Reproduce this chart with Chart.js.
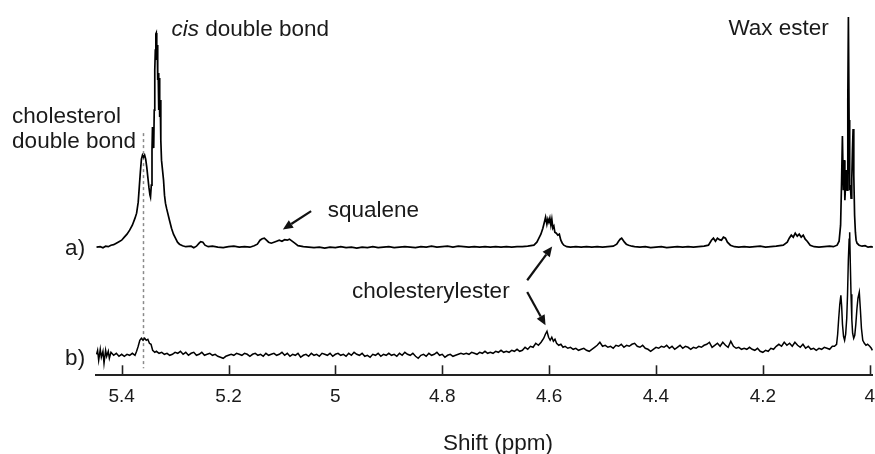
<!DOCTYPE html>
<html><head><meta charset="utf-8">
<script src="https://cdn.jsdelivr.net/npm/chart.js@4/dist/chart.umd.min.js"></script>
<style>html,body{margin:0;padding:0;background:#fff}</style>
</head><body>
<canvas id="c" width="875" height="454"></canvas>
<script>
// Spectrum a): [chemical shift (ppm), intensity above its own baseline]
const traceA = [
[5.447,0],[5.44,0.5],[5.435,-0.5],[5.43,1],[5.425,0.5],[5.42,2],[5.415,2.5],[5.41,4],[5.405,5.5],[5.4,7],
[5.395,10],[5.39,13],[5.385,17],[5.38,22],[5.375,29],[5.372,34],[5.369,45],[5.367,60],[5.365,75],[5.363,88],
[5.361,92],[5.359,90],[5.357,92],[5.355,88],[5.353,80],[5.351,70],[5.349,60],[5.347,52],[5.346,50],[5.3445,62],
[5.3432,97],[5.3423,120],[5.3412,107],[5.34,99],[5.339,137],[5.338,177],[5.337,197],[5.336,213],[5.3352,214],[5.3343,187],
[5.3334,202],[5.3325,167],[5.3316,174],[5.3306,137],[5.3297,169],[5.3288,130],[5.3278,147],[5.3267,107],[5.3254,87],[5.3235,77],
[5.3216,67],[5.3198,52],[5.318,44],[5.316,39],[5.3142,35],[5.3105,27],[5.3067,19],[5.303,13],[5.2993,9],[5.2955,5],
[5.2918,3],[5.286,1.5],[5.28,0.5],[5.27,1],[5.265,-0.5],[5.26,1],[5.255,4],[5.252,5.5],[5.248,5],[5.244,2],
[5.238,0.5],[5.23,1],[5.22,0],[5.21,-0.5],[5.2,0.5],[5.19,1],[5.18,0],[5.17,0.5],[5.16,0],[5.152,1.5],
[5.146,3],[5.141,7],[5.137,8.5],[5.133,9],[5.129,7],[5.125,5],[5.12,4],[5.115,5],[5.11,6],[5.105,7],
[5.1,6],[5.095,7.5],[5.09,7],[5.086,8],[5.081,6],[5.076,4],[5.07,1.5],[5.06,0.5],[5.05,0],[5.04,-0.5],
[5.03,0],[5.02,-1],[5.01,0],[5.0,-0.5],[4.99,0.5],[4.98,-0.5],[4.97,0],[4.96,-1],[4.95,0],[4.94,-0.5],
[4.93,0.5],[4.92,-0.5],[4.91,0],[4.9,0.5],[4.89,-0.5],[4.88,0],[4.87,0.5],[4.86,0],[4.85,-0.5],[4.84,0.5],
[4.83,0],[4.82,1],[4.81,0],[4.8,0.5],[4.79,1],[4.78,0],[4.77,1],[4.76,0.5],[4.75,0],[4.74,0.5],
[4.73,0],[4.72,0.5],[4.71,0],[4.7,0.5],[4.69,0],[4.68,0.5],[4.67,0],[4.66,0.5],[4.65,0.5],[4.64,1],
[4.6285,2],[4.6229,5],[4.6191,9],[4.6154,13],[4.6117,19],[4.6089,25],[4.6066,30],[4.6042,23],[4.6023,28],[4.6005,25],
[4.5986,29],[4.5967,22],[4.5949,28],[4.593,19],[4.5911,21],[4.5893,15],[4.5865,14],[4.5837,12],[4.5809,13],[4.5781,7],
[4.5753,4],[4.5725,2],[4.5669,0.5],[4.56,0],[4.55,0.5],[4.54,0],[4.53,0.5],[4.52,0],[4.51,0.5],[4.5,0],
[4.49,0.5],[4.48,1],[4.4735,3],[4.47,6],[4.467,8],[4.4642,9],[4.4615,7],[4.459,5],[4.4555,3],[4.4512,2],
[4.445,1],[4.44,0.5],[4.43,0],[4.42,0.5],[4.41,-0.5],[4.4,0],[4.39,0.5],[4.38,-0.5],[4.37,0],[4.36,0.5],
[4.35,0],[4.34,0.5],[4.33,0],[4.32,0.5],[4.31,1],[4.3018,2],[4.2962,7],[4.2925,9],[4.2887,6],[4.285,9],
[4.2813,7.5],[4.2775,7],[4.2738,10],[4.27,9],[4.2663,5],[4.2607,2],[4.2532,0.5],[4.245,0],[4.235,0.5],[4.225,0],
[4.215,0.5],[4.205,1],[4.195,0],[4.185,0.5],[4.175,1],[4.1618,2],[4.1543,5],[4.1506,9],[4.1468,12],[4.1431,10],
[4.1394,14],[4.1356,11],[4.1319,13],[4.1282,10],[4.1244,12],[4.1207,8],[4.117,6],[4.1114,2],[4.1039,0.5],[4.095,0],
[4.085,0.5],[4.075,1],[4.068,0.5],[4.061,2],[4.0573,6],[4.0545,22],[4.0526,67],[4.0511,111],[4.0494,57],[4.048,87],
[4.0465,47],[4.0452,62],[4.0437,77],[4.0423,57],[4.041,147],[4.0399,230],[4.0386,127],[4.0375,57],[4.0362,62],[4.0349,49],
[4.0336,67],[4.0323,97],[4.0311,118],[4.0298,72],[4.0283,32],[4.0268,15],[4.0255,7],[4.0237,4],[4.0199,2],[4.0143,1],
[4.0087,1.5],[4.0031,0],[3.9975,0.5],[3.994,0]
];
// Spectrum b): [chemical shift (ppm), intensity above its own baseline]
const traceB = [
[5.447,0],[5.445,4],[5.443,-6],[5.44,5],[5.438,-3],[5.435,3],[5.433,-9],[5.43,4],[5.428,-2],[5.425,3],
[5.423,-4],[5.42,2],[5.415,-1],[5.41,1],[5.405,-2],[5.4,0],[5.395,-2],[5.39,0],[5.385,-1],[5.38,1],
[5.375,-1],[5.372,3],[5.369,8],[5.366,14],[5.363,16],[5.36,14],[5.357,16],[5.354,14],[5.351,15],[5.348,11],
[5.345,10],[5.342,4],[5.338,2],[5.335,3],[5.33,1],[5.325,2],[5.32,0],[5.315,1],[5.31,-1],[5.305,0],
[5.3,2],[5.295,1],[5.29,3],[5.285,0],[5.28,2],[5.275,-1],[5.27,1],[5.265,2],[5.26,-1],[5.255,0],
[5.25,2],[5.245,-1],[5.24,0],[5.235,1],[5.23,-1],[5.225,0],[5.22,-2],[5.215,-3],[5.21,-4],[5.205,-2],
[5.2,-1],[5.195,0],[5.19,-1],[5.185,1],[5.18,0],[5.175,-1],[5.17,1],[5.165,0],[5.16,-2],[5.155,0],
[5.15,1],[5.145,-1],[5.14,0],[5.135,-2],[5.13,1],[5.125,-1],[5.12,0],[5.115,1],[5.11,-1],[5.105,0],
[5.1,2],[5.095,-1],[5.09,1],[5.085,-2],[5.08,0],[5.075,-1],[5.07,1],[5.065,-3],[5.06,-1],[5.055,0],
[5.05,-2],[5.045,1],[5.04,-1],[5.035,0],[5.03,-2],[5.025,1],[5.02,0],[5.015,-1],[5.01,1],[5.005,-2],
[5.0,0],[4.995,1],[4.99,-1],[4.985,0],[4.98,-2],[4.975,1],[4.97,-1],[4.965,2],[4.96,0],[4.955,-1],
[4.95,1],[4.945,-2],[4.94,-1],[4.935,-3],[4.93,0],[4.925,-1],[4.92,1],[4.915,-2],[4.91,0],[4.905,-1],
[4.9,1],[4.895,-1],[4.89,0],[4.885,-2],[4.88,1],[4.875,-1],[4.87,2],[4.865,0],[4.86,-1],[4.855,1],
[4.85,-2],[4.845,-4],[4.84,-1],[4.835,0],[4.83,-2],[4.825,1],[4.82,-1],[4.815,0],[4.81,2],[4.805,-1],
[4.8,0],[4.795,-3],[4.79,-1],[4.785,0],[4.78,-2],[4.775,-1],[4.77,0],[4.765,1],[4.76,0],[4.755,1],
[4.75,0],[4.745,2],[4.74,1],[4.735,0],[4.73,2],[4.725,1],[4.72,3],[4.715,1],[4.71,2],[4.705,1],
[4.7,3],[4.695,2],[4.69,4],[4.685,2],[4.68,3],[4.675,2],[4.67,4],[4.665,3],[4.66,5],[4.655,3],
[4.65,4],[4.645,7],[4.64,5],[4.635,8],[4.63,7],[4.625,11],[4.62,9],[4.615,12],[4.61,16],[4.607,20],
[4.604,23],[4.601,17],[4.598,14],[4.595,17],[4.592,13],[4.589,15],[4.586,11],[4.582,9],[4.578,10],[4.574,7],
[4.57,8],[4.565,6],[4.56,7],[4.555,5],[4.55,6],[4.545,4],[4.54,5],[4.535,6],[4.53,4],[4.525,3],
[4.52,5],[4.515,7],[4.51,9],[4.505,12],[4.5,8],[4.495,9],[4.49,7],[4.485,8],[4.48,6],[4.475,9],
[4.47,8],[4.465,10],[4.46,7],[4.455,9],[4.45,8],[4.445,10],[4.44,11],[4.435,8],[4.43,7],[4.425,9],
[4.42,6],[4.415,5],[4.41,3],[4.405,5],[4.4,7],[4.395,6],[4.39,8],[4.385,7],[4.38,9],[4.375,6],
[4.37,8],[4.365,5],[4.36,7],[4.355,9],[4.35,6],[4.345,8],[4.34,7],[4.335,5],[4.33,7],[4.325,6],
[4.32,8],[4.315,7],[4.31,9],[4.305,10],[4.3,12],[4.295,7],[4.29,9],[4.285,11],[4.28,8],[4.275,12],
[4.27,9],[4.265,7],[4.26,13],[4.255,8],[4.25,6],[4.245,7],[4.24,5],[4.235,6],[4.23,5],[4.225,7],
[4.22,5],[4.215,4],[4.21,6],[4.205,3],[4.2,2],[4.195,4],[4.19,3],[4.185,6],[4.18,5],[4.175,8],
[4.17,10],[4.165,8],[4.16,12],[4.155,9],[4.15,11],[4.145,8],[4.14,12],[4.135,9],[4.13,7],[4.125,10],
[4.12,6],[4.115,8],[4.11,5],[4.105,6],[4.1,4],[4.095,6],[4.09,5],[4.085,7],[4.08,6],[4.075,5],
[4.07,8],[4.066,8],[4.062,10],[4.06,20],[4.058,36],[4.056,50],[4.054,59],[4.0525,48],[4.051,30],[4.049,18],
[4.047,14],[4.045,20],[4.043,36],[4.0415,60],[4.04,94],[4.0385,115],[4.0375,122],[4.0365,95],[4.035,60],[4.0335,35],
[4.032,21],[4.03,16],[4.028,19],[4.026,30],[4.024,45],[4.022,56],[4.0195,62],[4.0175,45],[4.0155,26],[4.013,14],
[4.01,11],[4.007,9],[4.004,10],[4.0,8],[3.997,6],[3.995,4]
];
const seriesNames = ['a)', 'b)'];
const tickValues = [5.4, 5.2, 5.0, 4.8, 4.6, 4.4, 4.2, 4.0];
const tickLabels = ['5.4', '5.2', '5', '4.8', '4.6', '4.4', '4.2', '4'];
const axisTitle = 'Shift (ppm)';
// vertical stacking offsets of the two spectra (plot layout)
const offsetA = 128, offsetB = 21;

// annotations in data coordinates [ppm, plot units]
const labels = [
  {text: 'cholesterol', x: 5.605, y: 252},
  {text: 'double bond', x: 5.605, y: 227},
  {text: 'double bond', x: 5.3067, y: 339, prefix: 'cis'},
  {text: 'Wax ester', x: 4.2645, y: 340},
  {text: 'squalene', x: 5.0143, y: 158},
  {text: 'cholesterylester', x: 4.9688, y: 77},
  {text: 'a)', x: 5.5058, y: 120},
  {text: 'b)', x: 5.5058, y: 10}
];
const arrows = [
  {from: [5.0454, 164], to: [5.0983, 145.7]},
  {from: [4.641, 95], to: [4.5943, 128.7]},
  {from: [4.641, 83.3], to: [4.6067, 50]}
];
const dashedMarker = {x: 5.36, y1: 242, y2: 7};

const FONT = '"Liberation Sans", Arial, sans-serif';
const TEXT = '#1a1a1a';

const annot = {
  id: 'annot',
  beforeDatasetsDraw(chart) {
    const {ctx, scales: {x, y}} = chart;
    ctx.save();
    ctx.strokeStyle = '#8a8a8a';
    ctx.lineWidth = 1.5;
    ctx.setLineDash([3, 3]);
    const px = Math.round(x.getPixelForValue(dashedMarker.x)) + 0.5;
    ctx.beginPath();
    ctx.moveTo(px, y.getPixelForValue(dashedMarker.y1));
    ctx.lineTo(px, y.getPixelForValue(dashedMarker.y2));
    ctx.stroke();
    ctx.restore();
  },
  afterDraw(chart) {
    const {ctx, scales: {x, y}, chartArea} = chart;
    ctx.save();
    // inward tick marks
    ctx.strokeStyle = '#222';
    ctx.lineWidth = 1.6;
    tickValues.forEach(v => {
      const px = Math.round(x.getPixelForValue(v)) + 0.5;
      ctx.beginPath();
      ctx.moveTo(px, chartArea.bottom - 10);
      ctx.lineTo(px, chartArea.bottom);
      ctx.stroke();
    });
    // texts
    ctx.fillStyle = TEXT;
    ctx.textBaseline = 'alphabetic';
    ctx.textAlign = 'left';
    labels.forEach(l => {
      let px = x.getPixelForValue(l.x);
      const py = y.getPixelForValue(l.y);
      if (l.prefix) {
        ctx.font = 'italic 22.5px ' + FONT;
        ctx.fillText(l.prefix, px, py);
        px += ctx.measureText(l.prefix + ' ').width;
      }
      ctx.font = '22.5px ' + FONT;
      ctx.fillText(l.text, px, py);
    });
    // axis title
    ctx.font = '22.5px ' + FONT;
    ctx.textAlign = 'center';
    ctx.fillText(axisTitle, 498, 450);
    // arrows
    ctx.strokeStyle = '#111';
    ctx.fillStyle = '#111';
    ctx.lineWidth = 2.2;
    arrows.forEach(a => {
      const x1 = x.getPixelForValue(a.from[0]), y1 = y.getPixelForValue(a.from[1]);
      const x2 = x.getPixelForValue(a.to[0]), y2 = y.getPixelForValue(a.to[1]);
      const ang = Math.atan2(y2 - y1, x2 - x1);
      const hl = 10, hw = 4.5;
      const bx = x2 - hl * Math.cos(ang), by = y2 - hl * Math.sin(ang);
      ctx.beginPath();
      ctx.moveTo(x1, y1);
      ctx.lineTo(bx, by);
      ctx.stroke();
      ctx.beginPath();
      ctx.moveTo(x2, y2);
      ctx.lineTo(bx + hw * Math.sin(ang), by - hw * Math.cos(ang));
      ctx.lineTo(bx - hw * Math.sin(ang), by + hw * Math.cos(ang));
      ctx.closePath();
      ctx.fill();
    });
    ctx.restore();
  }
};

const toPoints = (trace, off) => trace.map(p => ({x: p[0], y: p[1] + off}));

new Chart(document.getElementById('c'), {
  type: 'scatter',
  data: {
    datasets: [
      {label: seriesNames[0], data: toPoints(traceA, offsetA), showLine: true, borderColor: '#000', borderWidth: 1.7, pointRadius: 0, tension: 0},
      {label: seriesNames[1], data: toPoints(traceB, offsetB), showLine: true, borderColor: '#000', borderWidth: 1.5, pointRadius: 0, tension: 0}
    ]
  },
  options: {
    responsive: false,
    animation: false,
    layout: {padding: {left: 96, right: 0, top: 0, bottom: 35}},
    plugins: {legend: {display: false}, tooltip: {enabled: false}},
    scales: {
      x: {
        type: 'linear', reverse: true, min: 3.994, max: 5.448,
        grid: {display: false, drawTicks: false},
        border: {display: true, color: '#222', width: 2},
        afterBuildTicks: s => { s.ticks = tickValues.map(v => ({value: v})); },
        ticks: {
          autoSkip: false, maxRotation: 0, padding: 0, color: TEXT,
          font: {family: FONT, size: 19, lineHeight: 2.3},
          callback: (v) => { const i = tickValues.findIndex(t => Math.abs(t - v) < 1e-6); return i >= 0 ? tickLabels[i] : ''; }
        }
      },
      y: {display: false, min: 0, max: 375}
    }
  },
  plugins: [annot]
});
</script>
</body></html>
